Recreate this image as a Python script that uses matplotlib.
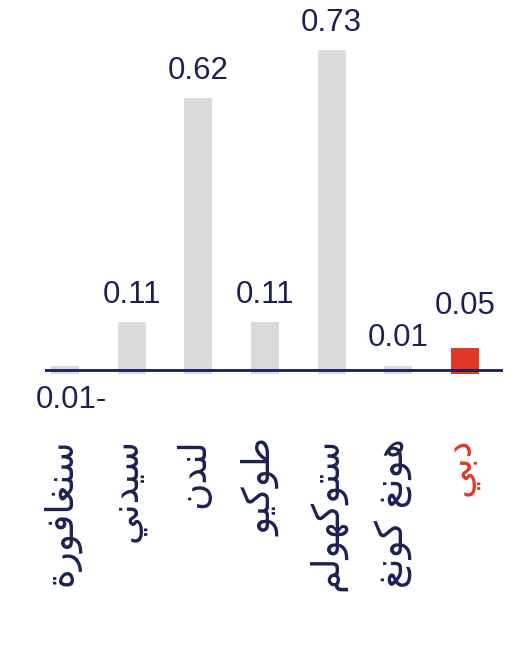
import numpy as np
import matplotlib
matplotlib.use("Agg")
import matplotlib.pyplot as plt

# ---- data ----
categories = ["سنغافورة", "سيدني", "لندن", "طوكيو", "ستوكهولم", "هونغ كونغ", "دبي"]
values = [-0.01, 0.11, 0.62, 0.11, 0.73, 0.01, 0.05]
highlight = "دبي"

GRAY = "#d9dadc"
RED = "#e03826"
NAVY = "#1b2150"
LINE = "#161c5c"

FORMS = {
    'ا': ('\uFE8D', '\uFE8E', None, None),
    'ب': ('\uFE8F', '\uFE90', '\uFE91', '\uFE92'),
    'ة': ('\uFE93', '\uFE94', None, None),
    'ت': ('\uFE95', '\uFE96', '\uFE97', '\uFE98'),
    'د': ('\uFEA9', '\uFEAA', None, None),
    'ر': ('\uFEAD', '\uFEAE', None, None),
    'س': ('\uFEB1', '\uFEB2', '\uFEB3', '\uFEB4'),
    'ط': ('\uFEC1', '\uFEC2', '\uFEC3', '\uFEC4'),
    'غ': ('\uFECD', '\uFECE', '\uFECF', '\uFED0'),
    'ف': ('\uFED1', '\uFED2', '\uFED3', '\uFED4'),
    'ك': ('\uFED9', '\uFEDA', '\uFEDB', '\uFEDC'),
    'ل': ('\uFEDD', '\uFEDE', '\uFEDF', '\uFEE0'),
    'م': ('\uFEE1', '\uFEE2', '\uFEE3', '\uFEE4'),
    'ن': ('\uFEE5', '\uFEE6', '\uFEE7', '\uFEE8'),
    'ه': ('\uFEE9', '\uFEEA', '\uFEEB', '\uFEEC'),
    'و': ('\uFEED', '\uFEEE', None, None),
    'ي': ('\uFEF1', '\uFEF2', '\uFEF3', '\uFEF4'),
}


def shape(text):
    out = []
    n = len(text)
    for i, ch in enumerate(text):
        if ch not in FORMS:
            out.append(ch)
            continue
        prev = text[i - 1] if i > 0 else None
        nxt = text[i + 1] if i < n - 1 else None
        join_prev = prev in FORMS and FORMS[prev][2] is not None
        join_next = FORMS[ch][2] is not None and nxt in FORMS
        iso, fin, ini, med = FORMS[ch]
        if join_prev and join_next:
            out.append(med)
        elif join_prev:
            out.append(fin)
        elif join_next:
            out.append(ini)
        else:
            out.append(iso)
    return "".join(out)[::-1]


W, H = 531, 647
fig = plt.figure(figsize=(W / 100, H / 100), dpi=100)
ax = fig.add_axes([45 / W, (H - 430) / H, (503 - 45) / W, 430 / H])
ax.set_xlim(-0.3, 6.57)
ax.set_ylim(-60 / 438, 370 / 438)
ax.axis("off")

x = np.arange(len(categories))
base = -0.01
colors = [RED if c == highlight else GRAY for c in categories]
heights = [abs(v) - base for v in values]
ax.bar(x, heights, bottom=base, width=0.42, color=colors, zorder=1)
ax.axhline(0, color=LINE, lw=2, zorder=2)

for xi, v, c in zip(x, values, categories):
    if v < 0:
        ax.text(xi + 0.1, v - 0.058, f"{abs(v):.2f}-", ha="center", va="center",
                fontsize=22.5, color=NAVY, family="Liberation Sans")
    else:
        off = 0.096 if c == highlight else 0.062
        ax.text(xi, v + off, f"{v:.2f}", ha="center", va="center",
                fontsize=22.5, color=NAVY, family="Liberation Sans")

for xi, c in zip(x, categories):
    ax.text(xi - 0.06, -0.155, shape(c), rotation=90, ha="center", va="top",
            fontsize=27, color=RED if c == highlight else NAVY,
            family="DejaVu Sans", clip_on=False)

fig.savefig("out.png", dpi=100)
